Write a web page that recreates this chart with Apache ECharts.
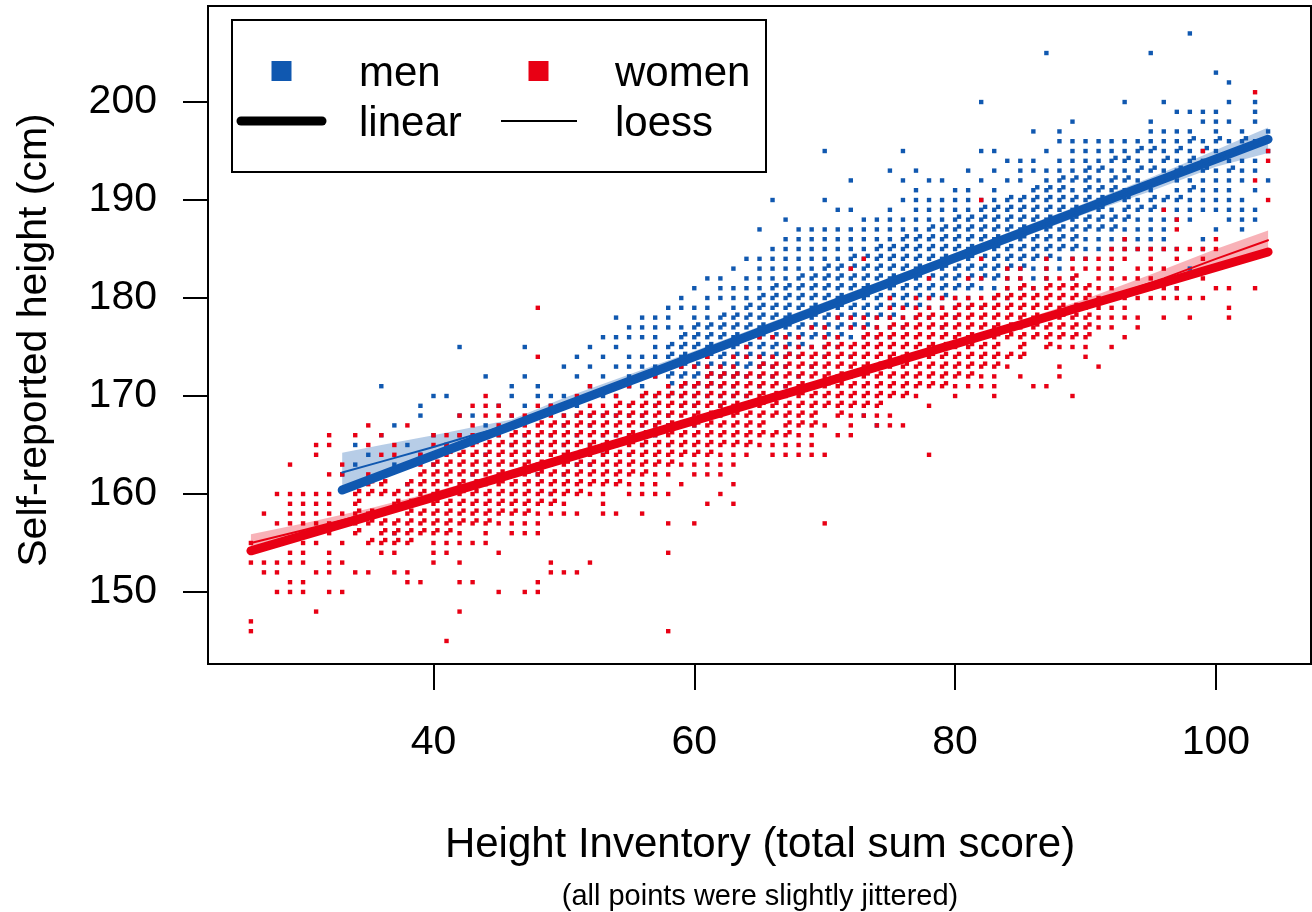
<!DOCTYPE html>
<html><head><meta charset="utf-8">
<script src="https://cdn.jsdelivr.net/npm/echarts@6/dist/echarts.min.js"></script>
<style>html,body{margin:0;padding:0;background:#fff}#c{width:1312px;height:912px}</style>
</head><body><div id="c"></div>
<script>
const xTicks=[40,60,80,100];
const yTicks=[150,160,170,180,190,200];
const xTitle='Height Inventory (total sum score)';
const xSubTitle='(all points were slightly jittered)';
const yTitle='Self-reported height (cm)';
const legendItems=['men','women','linear','loess'];

// columns: [x, y, y, ...] (jittered points)
const womenA=[
[26,155,153,147,146],[27,158,153,152],[28,160,157,153,152,150],
[29,163,160,159,158,157,154,153,151,150],[30,160,159,158,157,156,155,154,153,151,150],
[31,165,164,160,159,158,157,155,152,148],[32,166,165,162,160,159,158,157,156,154,153,152,150],
[33,163,162,158,157,155,153,150],[34,166,160,159,158,157,156,152],
[35,167,165,162,161,160,158,157,155,152],[36,166,164,161,160,157,156,155,154],
[37,165,164,160,159,157,156,155,154,152],[38,167,163,161,160,159,158,157,156,155,152,151],
[39,164,163,162,161,160,158,157,156,151],[40,166,165,164,163,162,161,160,159,158,157,156,155,154,153],
[41,166,165,164,163,162,161,160,159,158,157,156,155,154,145],
[42,168,166,165,164,163,162,161,160,159,158,157,156,155,153,151,148],
[43,169,167,166,165,164,163,162,161,160,159,158,157,155,151],
[44,170,169,168,166,165,164,163,162,161,160,159,158,157,156,155],
[45,169,168,167,166,165,164,163,162,161,160,159,158,157,154,150],
[46,168,167,166,165,164,163,162,161,160,159,158,157,156],
[47,168,167,166,165,164,163,162,161,160,159,158,157,156,150],
[48,179,174,169,168,167,166,165,164,163,162,161,160,159,158,157,156,151,150],
[49,169,168,167,166,165,164,163,162,161,160,159,158,153,152],
[50,169,168,167,166,165,164,163,162,161,160,159,158,152],
[51,170,168,167,166,165,164,163,162,161,160,158,152],
[52,171,169,168,167,166,165,164,163,162,161,160,153],
[53,169,168,167,166,165,164,163,162,161,160,159,158],
[54,170,169,168,167,166,165,164,163,162,161,158],
[55,171,169,168,167,166,165,164,163,162,161,160],
[56,172,170,169,168,167,166,165,164,163,162,161,160,158],
[57,172,170,169,168,167,166,165,164,163,162,161,160],
[58,173,171,170,169,168,167,166,165,164,163,162,160,157,154,146],
[59,173,171,170,169,168,167,166,165,164,163,161],
[60,173,171,170,169,168,167,166,165,164,163,162,157],
[61,174,173,172,171,170,169,168,167,166,165,164,163,162,159],
[62,175,173,172,171,170,169,168,167,166,165,164,163,162,160],
[63,174,173,172,171,170,169,168,167,166,165,164,163,161,159],
[64,175,174,172,171,170,169,168,167,166,165,164],
[65,176,174,173,172,171,170,169,168,167,166,165],
[66,176,174,173,172,171,170,169,168,166,165,164],
[67,176,175,174,173,172,171,170,169,168,167,166,165,164],
[68,176,175,174,173,172,171,170,169,168,167,166,165,164],
[69,177,175,174,173,172,171,170,169,168,167,166,165,164],
[70,177,176,175,174,173,172,171,170,169,167,164,157],
[71,178,176,175,174,173,172,171,170,169,168,166],
[72,183,178,177,175,174,173,172,171,170,169,168,167,166],
[73,184,178,177,176,175,174,173,172,171,170,169,168],
[74,178,177,176,175,174,173,172,171,170,169,168,167],
[75,180,179,178,177,176,175,174,173,172,171,170,168,167],
[76,179,178,177,176,175,174,173,172,171,170,167],
[77,180,179,178,177,176,175,174,173,172,171,170],
[78,182,180,179,178,177,176,175,174,173,172,171,169,164],
[79,180,179,178,177,176,175,174,173,172,171],
[80,180,179,178,177,176,175,174,173,172,171,170],
[81,182,180,179,178,177,176,175,174,173,172,171],
[82,190,184,182,180,179,178,177,176,175,174,173,172,171],
[83,180,179,178,177,176,175,174,173,172,171,170],
[84,183,182,181,180,179,178,177,176,174,173],
[85,183,182,181,180,179,178,177,176,175,174,172],
[86,181,180,179,178,177,176,171],
[87,184,183,182,181,180,179,178,177,176,175,171],
[88,182,181,180,179,178,177,176,175,173,172],
[89,184,183,182,181,180,179,178,177,176,175,170],
[90,184,183,181,180,179,178,177,176,175,174],
[91,184,183,182,181,180,179,178,177,173],
[92,185,184,183,182,181,180,179,178,177,175],
[93,186,185,184,182,180,179,178,176],
[94,185,183,182,180,178,177],[95,185,184,183,182,181,180],
[96,189,185,183,181,180,178],[97,188,187,185,184,182,181,180],
[98,185,180,178],[99,195,185,184,182,180],[100,186,185,181],
[101,181,179,178],[103,201,192,181],[104,195,194,190]
];
const womenB=[
[34.3,160.3,159.3,158.3,157.3,156.3],[35.3,161.3,160.3,158.3,157.3,155.3],
[36.3,161.3,160.3,157.3,156.3,155.3],[37.3,160.3,159.3,157.3,156.3,155.3],
[38.3,161.3,160.3,159.3,158.3,157.3,156.3,155.3],[39.3,162.3,161.3,160.3,158.3,157.3,156.3],
[40.3,163.3,162.3,161.3,160.3,159.3,158.3,157.3,156.3],
[41.3,164.3,163.3,162.3,161.3,160.3,159.3,158.3,157.3,156.3],
[42.3,164.3,163.3,162.3,161.3,160.3,159.3,158.3,157.3],
[43.3,165.3,164.3,163.3,162.3,161.3,160.3,159.3,158.3,157.3],
[44.3,165.3,164.3,163.3,162.3,161.3,160.3,159.3,158.3,157.3],
[45.3,165.3,164.3,163.3,162.3,161.3,160.3,159.3,158.3],
[46.3,166.3,165.3,164.3,163.3,162.3,161.3,160.3,159.3,158.3],
[47.3,166.3,165.3,164.3,163.3,162.3,161.3,160.3,159.3,158.3],
[48.3,167.3,166.3,165.3,164.3,163.3,162.3,161.3,160.3,159.3],
[49.3,167.3,166.3,165.3,164.3,163.3,162.3,161.3,160.3,159.3],
[50.3,167.3,166.3,165.3,164.3,163.3,162.3,161.3,160.3],
[51.3,168.3,167.3,166.3,165.3,164.3,163.3,162.3,161.3,160.3],
[52.3,168.3,167.3,166.3,165.3,164.3,163.3,162.3,161.3],
[53.3,168.3,167.3,166.3,165.3,164.3,163.3,162.3,161.3],
[54.3,169.3,168.3,167.3,166.3,165.3,164.3,163.3,162.3,161.3],
[55.3,169.3,168.3,167.3,166.3,165.3,164.3,163.3,162.3],
[56.3,170.3,169.3,168.3,167.3,166.3,165.3,164.3,163.3,162.3],
[57.3,170.3,169.3,168.3,167.3,166.3,165.3,164.3,163.3],
[58.3,170.3,169.3,168.3,167.3,166.3,165.3,164.3,163.3],
[59.3,171.3,170.3,169.3,168.3,167.3,166.3,165.3,164.3],
[60.3,171.3,170.3,169.3,168.3,167.3,166.3,165.3,164.3],
[61.3,172.3,171.3,170.3,169.3,168.3,167.3,166.3,165.3,164.3],
[62.3,172.3,171.3,170.3,169.3,168.3,167.3,166.3,165.3],
[63.3,172.3,171.3,170.3,169.3,168.3,167.3,166.3,165.3],
[64.3,172.3,171.3,170.3,169.3,168.3,167.3,166.3,165.3],
[65.3,173.3,172.3,171.3,170.3,169.3,168.3,167.3,166.3],
[66.3,173.3,172.3,171.3,170.3,169.3,168.3,166.3],
[67.3,174.3,173.3,172.3,171.3,170.3,169.3,168.3,167.3,166.3],
[68.3,174.3,173.3,172.3,171.3,170.3,169.3,168.3,167.3],
[69.3,174.3,173.3,172.3,171.3,170.3,169.3,168.3,167.3],
[70.3,175.3,174.3,173.3,172.3,171.3,170.3,169.3],
[71.3,175.3,174.3,173.3,172.3,171.3,170.3,169.3,168.3],
[72.3,175.3,174.3,173.3,172.3,171.3,170.3,169.3],
[73.3,176.3,175.3,174.3,173.3,172.3,171.3,170.3,169.3],
[74.3,176.3,175.3,174.3,173.3,172.3,171.3,170.3,169.3],
[75.3,177.3,176.3,175.3,174.3,173.3,172.3,171.3,170.3],
[76.3,177.3,176.3,175.3,174.3,173.3,172.3,171.3,170.3],
[77.3,178.3,177.3,176.3,175.3,174.3,173.3,172.3,171.3],
[78.3,178.3,177.3,176.3,175.3,174.3,173.3,172.3,171.3],
[79.3,178.3,177.3,176.3,175.3,174.3,173.3,172.3,171.3],
[80.3,179.3,178.3,177.3,176.3,175.3,174.3,173.3,172.3],
[81.3,179.3,178.3,177.3,176.3,175.3,174.3,173.3,172.3],
[82.3,179.3,178.3,177.3,176.3,175.3,174.3,173.3],
[83.3,180.3,179.3,178.3,177.3,176.3,175.3,174.3,173.3],
[84.3,180.3,179.3,178.3,177.3,176.3,174.3],
[85.3,181.3,180.3,179.3,178.3,177.3,176.3,175.3,174.3],
[86.3,180.3,179.3,178.3,177.3,176.3],
[87.3,181.3,180.3,179.3,178.3,177.3,176.3,175.3],
[88.3,181.3,180.3,179.3,178.3,177.3,176.3],
[89.3,182.3,181.3,180.3,179.3,178.3,177.3,176.3],
[90.3,181.3,180.3,179.3,178.3,177.3,176.3]
];
const menA=[
[33,162],[34,165,163],[35,164],[36,171,166],[37,167,163,156],[38,165,161],
[39,169,168,164],[40,170,166,163],[41,170,165],[42,175,168,166],[43,168,162],
[44,172,167,164],[45,169,166],[46,171,170,168,165],[47,175,172,169,166],
[48,171,170,168,165,162],[49,170,169,166,163,160],[50,173,170,168,167,165,162],
[51,174,172,169,168,166,163],[52,175,173,171,170,168,167,165,163],
[53,176,174,172,170,168,166,164],[54,178,176,175,173,171,170,168,166,165],
[55,177,176,174,173,172,171,169,168,166,164],
[56,178,177,176,174,173,171,170,168,167,165],
[57,178,177,176,175,174,173,172,170,169,167,166],
[58,179,178,177,175,174,173,172,171,170,168,167,165],
[59,180,179,177,176,175,174,173,172,171,170,169,167],
[60,181,179,178,177,176,175,174,173,172,171,170,169,167],
[61,182,180,179,178,177,176,175,174,173,172,171,170,168],
[62,182,181,180,178,177,176,175,174,173,172,171,170,169],
[63,183,181,180,179,178,177,176,175,174,173,172,171,170],
[64,184,182,181,180,179,178,177,176,175,174,173,172,170],
[65,187,184,183,182,181,180,179,178,177,176,175,174,173,172,171],
[66,190,185,184,183,182,181,180,179,178,177,176,175,174,173,172],
[67,188,186,185,184,183,182,181,180,179,178,177,176,175,174,173,171],
[68,187,186,185,184,183,182,181,180,179,178,177,176,175,174,172],
[69,187,186,185,184,183,182,181,180,179,178,177,176,175,173],
[70,195,190,187,186,185,184,183,182,181,180,179,178,177,176,175,174],
[71,189,187,186,185,184,183,182,181,180,179,178,177,176,175],
[72,192,189,187,186,185,184,183,182,181,180,179,178,177,176,174],
[73,188,187,186,185,184,183,182,181,180,179,178,177,176,168],
[74,188,187,186,185,184,183,182,181,180,179,178,177,176,167],
[75,193,189,188,187,186,185,184,183,182,181,180,179,178,177,176],
[76,195,192,190,188,187,186,185,184,183,182,181,180,179,178,177],
[77,193,191,190,189,188,187,186,185,184,183,182,181,180,179,178],
[78,192,190,189,188,187,186,185,184,183,182,181,180,179,178],
[79,192,190,189,188,187,186,185,184,183,182,181,180,179,177],
[80,191,190,189,188,187,186,185,184,183,182,181,180,179,178],
[81,193,191,190,189,188,187,186,185,184,183,182,181,180,179],
[82,200,195,192,190,189,188,187,186,185,184,183,182,181,179],
[83,195,193,191,190,189,188,187,186,185,184,183,182,181,180],
[84,194,192,190,189,188,187,186,185,184,183,182,181,180],
[85,194,193,192,190,189,188,187,186,185,184,183,182,181],
[86,197,194,193,191,190,189,188,187,186,185,184,183,182,181],
[87,205,195,193,192,191,190,189,188,187,186,185,184,183,182],
[88,197,196,194,193,192,191,190,189,188,187,186,185,184,183],
[89,198,196,195,194,193,192,191,190,189,188,187,186,185,184,182],
[90,196,195,194,193,192,191,190,189,188,187,186,185,184],
[91,196,195,194,193,192,191,190,189,188,187,186,185],
[92,196,195,194,193,192,191,190,189,188,187,186,185,183],
[93,200,196,195,194,193,192,191,190,189,188,187,186,185],
[94,196,195,194,193,192,191,190,189,188,187,186,185],
[95,205,198,197,196,195,194,193,191,190,189,188,187,186,185],
[96,200,197,196,195,194,193,192,190,189,188,187,186,185],
[97,199,197,196,195,194,193,192,191,190,189,188,185,181],
[98,207,199,197,196,195,194,193,192,191,190,189,188,183],
[99,199,198,196,195,194,193,192,191,190,189,186,185],
[100,203,199,198,197,196,195,194,193,192,191,190,189,187],
[101,202,200,198,196,194,193,192,191,190,189,188],
[102,197,196,194,193,192,190,189,188,187],
[103,200,199,198,196,194,193,191,189,188],
[104,197,195,192]
];
const menB=[
[58.3,175.3,174.3,173.3,172.3,171.3,170.3],[59.3,176.3,175.3,174.3,173.3,172.3,171.3],
[60.3,177.3,176.3,175.3,174.3,173.3,172.3,171.3],[61.3,177.3,176.3,175.3,174.3,173.3,172.3,171.3],
[62.3,178.3,177.3,176.3,175.3,174.3,173.3,172.3],[63.3,178.3,177.3,176.3,175.3,174.3,173.3,172.3],
[64.3,179.3,178.3,177.3,176.3,175.3,174.3,173.3],
[65.3,180.3,179.3,178.3,177.3,176.3,175.3,174.3,173.3],
[66.3,181.3,180.3,179.3,178.3,177.3,176.3,175.3,174.3],
[67.3,181.3,180.3,179.3,178.3,177.3,176.3,175.3,174.3],
[68.3,182.3,181.3,180.3,179.3,178.3,177.3,176.3,175.3],
[69.3,182.3,181.3,180.3,179.3,178.3,177.3,176.3],
[70.3,183.3,182.3,181.3,180.3,179.3,178.3,177.3,176.3],
[71.3,183.3,182.3,181.3,180.3,179.3,178.3,177.3,176.3],
[72.3,184.3,183.3,182.3,181.3,180.3,179.3,178.3,177.3],
[73.3,184.3,183.3,182.3,181.3,180.3,179.3,178.3,177.3],
[74.3,185.3,184.3,183.3,182.3,181.3,180.3,179.3,178.3],
[75.3,185.3,184.3,183.3,182.3,181.3,180.3,179.3,178.3],
[76.3,186.3,185.3,184.3,183.3,182.3,181.3,180.3,179.3],
[77.3,186.3,185.3,184.3,183.3,182.3,181.3,180.3,179.3],
[78.3,187.3,186.3,185.3,184.3,183.3,182.3,181.3,180.3],
[79.3,187.3,186.3,185.3,184.3,183.3,182.3,181.3,180.3],
[80.3,188.3,187.3,186.3,185.3,184.3,183.3,182.3,181.3],
[81.3,188.3,187.3,186.3,185.3,184.3,183.3,182.3,181.3],
[82.3,189.3,188.3,187.3,186.3,185.3,184.3,183.3,182.3],
[83.3,189.3,188.3,187.3,186.3,185.3,184.3,183.3,182.3],
[84.3,190.3,189.3,188.3,187.3,186.3,185.3,184.3,183.3],
[85.3,190.3,189.3,188.3,187.3,186.3,185.3,184.3,183.3],
[86.3,191.3,190.3,189.3,188.3,187.3,186.3,185.3,184.3],
[87.3,191.3,190.3,189.3,188.3,187.3,186.3,185.3,184.3],
[88.3,192.3,191.3,190.3,189.3,188.3,187.3,186.3,185.3],
[89.3,192.3,190.3,189.3,188.3,187.3,186.3,185.3],
[90.3,193.3,192.3,191.3,190.3,189.3,188.3,187.3],
[91.3,193.3,191.3,190.3,189.3,188.3,187.3],
[92.3,194.3,192.3,191.3,190.3,188.3,187.3],
[93.3,194.3,192.3,190.3,189.3,188.3],
[94.3,195.3,193.3,191.3,189.3],[95.3,195.3,193.3,190.3,189.3],
[96.3,194.3,192.3,190.3],[97.3,195.3,193.3,190.3],[98.3,196.3,194.3,191.3],
[99.3,195.3,193.3],[100.3,196.3,194.3],[101.3,193.3],[102.3,196.3]
];

// fitted lines and loess curves with confidence bands
const menLinear=[[33,160.4],[104,196.2]];
const womenLinear=[[26,154.2],[104,184.7]];
const menLoess=[[33,162.2],[36,163.3],[40,164.8],[43,166.0],[46,167.1],[50,169.1],[55,171.6],[60,174.1],[65,176.6],[70,179.1],[75,181.6],[80,184.1],[85,186.6],[90,189.1],[95,191.6],[100,194.2],[104,196.3]];
const womenLoess=[[26,155.0],[30,156.3],[35,158.0],[40,159.8],[50,163.7],[60,167.5],[70,171.4],[80,175.3],[85,177.3],[88,178.5],[92,180.2],[96,182.0],[100,184.0],[104,185.9]];
const menBandX=[33,36,40,43,46,50,60,70,80,90,95,100,104];
const menBandLo=[160.2,161.9,163.8,165.1,166.5,168.6,173.6,178.6,183.6,188.6,190.9,193.4,194.8];
const menBandHi=[164.2,165.0,166.0,166.8,167.6,169.8,174.6,179.6,184.6,189.7,192.3,195.1,197.4];
const womenBandX=[26,30,35,40,50,60,70,80,85,90,95,100,104];
const womenBandLo=[154.1,155.6,157.4,159.4,163.4,167.2,171.1,175.0,177.0,178.9,181.0,183.0,184.9];
const womenBandHi=[155.9,157.0,158.5,160.2,164.0,167.8,171.7,175.6,177.7,179.9,182.4,185.0,186.9];

const BLUE='#1058b0', RED='#e80014';
const FONT="'Liberation Sans', Arial, Helvetica, sans-serif";

function pts(rows){const out=[];rows.forEach(r=>{for(let i=1;i<r.length;i++)out.push([r[0],r[i]]);});return out;}
function band(bx,lo,hi,fill){
  return {type:'custom',silent:true,data:[[bx[0],lo[0]]],clip:true,
    renderItem:function(params,api){
      const p=[];
      for(let i=0;i<bx.length;i++)p.push(api.coord([bx[i],hi[i]]));
      for(let i=bx.length-1;i>=0;i--)p.push(api.coord([bx[i],lo[i]]));
      return {type:'polygon',shape:{points:p},style:{fill:fill}};
    }};
}
function scatter(data,color){
  return {type:'scatter',data:data,symbol:'rect',symbolSize:4.4,silent:true,
    itemStyle:{color:color,opacity:1},large:false};
}
function line(data,color,w){
  return {type:'line',data:data,showSymbol:false,symbol:'none',silent:true,
    lineStyle:{color:color,width:w,cap:'round',join:'round'}};
}

const chart=echarts.init(document.getElementById('c'),null,{renderer:'canvas'});
chart.setOption({
  animation:false,
  backgroundColor:'#fff',
  grid:{left:208,top:6,width:1103,height:658,show:true,borderColor:'#000',borderWidth:2,containLabel:false},
  xAxis:{type:'value',min:22.71,max:107.29,
    axisLine:{show:true,lineStyle:{color:'#000',width:2}},
    axisTick:{show:true,length:26,lineStyle:{color:'#000',width:2},customValues:xTicks},
    axisLabel:{show:true,customValues:xTicks,margin:58,fontSize:41,color:'#000',fontFamily:FONT},
    splitLine:{show:false}},
  yAxis:{type:'value',min:142.65,max:209.8,
    axisLine:{show:true,lineStyle:{color:'#000',width:2}},
    axisTick:{show:true,length:25,lineStyle:{color:'#000',width:2},customValues:yTicks},
    axisLabel:{show:true,customValues:yTicks,margin:51,fontSize:41,color:'#000',fontFamily:FONT},
    splitLine:{show:false}},
  series:[
    scatter(pts(menA),BLUE),
    scatter(pts(menB),BLUE),
    scatter(pts(womenA),RED),
    scatter(pts(womenB),RED),
    band(menBandX,menBandLo,menBandHi,'rgba(16,88,176,0.3)'),
    band(womenBandX,womenBandLo,womenBandHi,'rgba(232,0,20,0.3)'),
    line(menLinear,BLUE,9),
    line(womenLinear,RED,9),
    line(menLoess,BLUE,2),
    line(womenLoess,RED,2)
  ],
  graphic:[
    {type:'text',x:760,y:845,z:100,style:{text:xTitle,font:'42px '+FONT,fill:'#000',textAlign:'center',textVerticalAlign:'middle',verticalAlign:'middle'}},
    {type:'text',x:760,y:897,z:100,style:{text:xSubTitle,font:'29px '+FONT,fill:'#000',textAlign:'center',textVerticalAlign:'middle',verticalAlign:'middle'}},
    {type:'text',x:35,y:340,rotation:Math.PI/2,z:100,style:{text:yTitle,font:'41px '+FONT,fill:'#000',textAlign:'center',textVerticalAlign:'middle',verticalAlign:'middle'}},
    {type:'rect',z:100,shape:{x:232,y:20,width:534,height:152},style:{fill:'#fff',stroke:'#000',lineWidth:2}},
    {type:'rect',z:101,shape:{x:271.5,y:61,width:20,height:20},style:{fill:BLUE}},
    {type:'rect',z:101,shape:{x:528.5,y:61,width:20,height:20},style:{fill:RED}},
    {type:'line',z:101,shape:{x1:241,y1:121,x2:322,y2:121},style:{stroke:'#000',lineWidth:9,lineCap:'round'}},
    {type:'line',z:101,shape:{x1:501,y1:121,x2:577,y2:121},style:{stroke:'#000',lineWidth:2}},
    {type:'text',x:359,y:74,z:101,style:{text:legendItems[0],font:'42px '+FONT,fill:'#000',textAlign:'left',textVerticalAlign:'middle',verticalAlign:'middle'}},
    {type:'text',x:615,y:74,z:101,style:{text:legendItems[1],font:'42px '+FONT,fill:'#000',textAlign:'left',textVerticalAlign:'middle',verticalAlign:'middle'}},
    {type:'text',x:359,y:124,z:101,style:{text:legendItems[2],font:'42px '+FONT,fill:'#000',textAlign:'left',textVerticalAlign:'middle',verticalAlign:'middle'}},
    {type:'text',x:615,y:124,z:101,style:{text:legendItems[3],font:'42px '+FONT,fill:'#000',textAlign:'left',textVerticalAlign:'middle',verticalAlign:'middle'}}
  ]
});
</script>
</body></html>
